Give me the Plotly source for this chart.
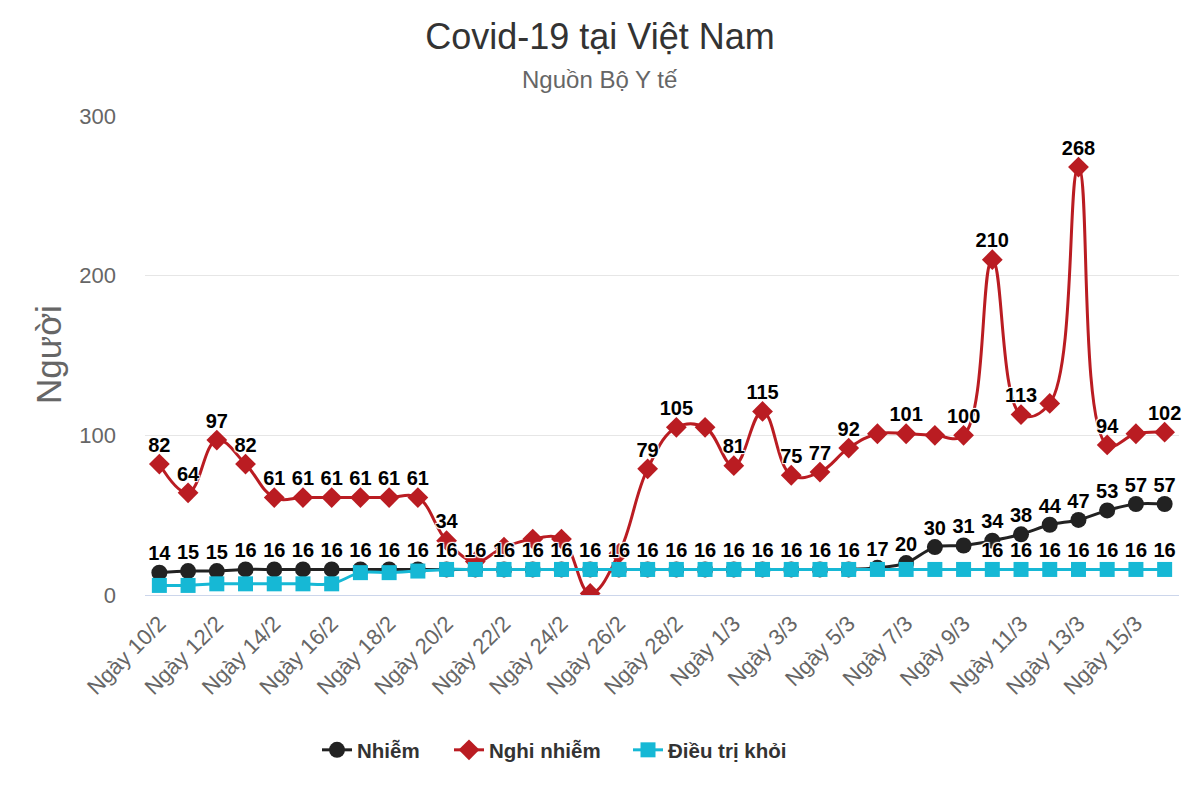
import plotly.graph_objects as go

# ---- data ----
days = ["10/2", "11/2", "12/2", "13/2", "14/2", "15/2", "16/2", "17/2", "18/2", "19/2",
        "20/2", "21/2", "22/2", "23/2", "24/2", "25/2", "26/2", "27/2", "28/2", "29/2",
        "1/3", "2/3", "3/3", "4/3", "5/3", "6/3", "7/3", "8/3", "9/3", "10/3",
        "11/3", "12/3", "13/3", "14/3", "15/3", "16/3"]
categories = ["Ngày " + d for d in days]

nhiem = [14, 15, 15, 16, 16, 16, 16, 16, 16, 16,
         16, 16, 16, 16, 16, 16, 16, 16, 16, 16,
         16, 16, 16, 16, 16, 17, 20, 30, 31, 34,
         38, 44, 47, 53, 57, 57]
nghi_nhiem = [82, 64, 97, 82, 61, 61, 61, 61, 61, 61,
              34, 21, 30, 35, 35, 1, 26, 79, 105, 105,
              81, 115, 75, 77, 92, 101, 101, 100, 100, 210,
              113, 120, 268, 94, 101, 102]
dieu_tri = [6, 6, 7, 7, 7, 7, 7, 14, 14, 15,
            16, 16, 16, 16, 16, 16, 16, 16, 16, 16,
            16, 16, 16, 16, 16, 16, 16, 16, 16, 16,
            16, 16, 16, 16, 16, 16]

# indices whose data label is hidden (overlap) in the original
hidden_nghi = [11, 12, 13, 14, 15, 16, 19, 25, 27, 31, 34]
shown_dieu_tri = [29, 30, 31, 32, 33, 34, 35]

tick_labels = categories[::2]
y_ticks = [0, 100, 200, 300]

BLACK = "#222222"
RED = "#BA1C22"
CYAN = "#16B8D5"
FONT = "Liberation Sans, Arial, sans-serif"

OFF = 8  # page body margin
# plot area in page pixels: x 145..1179, y 116..595
L = 145 - OFF
T = 116 - OFF
R = 1200 - (1179 - OFF)
B = 800 - (595 - OFF)
PW, PH = 1200 - L - R, 800 - T - B

def px_x(p):
    return (p - OFF - L) / PW

def px_y(p):
    return (800 - B - (p - OFF)) / PH

def labels(vals, keep):
    return [str(v) if keep(i) else "" for i, v in enumerate(vals)]

fig = go.Figure()

series = [
    ("Nhiễm", nhiem, BLACK, "circle", 16, "legend", 0.9),
    ("Nghi nhiễm", nghi_nhiem, RED, "diamond", 16, "legend2", 1.15),
    ("Điều trị khỏi", dieu_tri, CYAN, "square", 15, "legend3", 0.9),
]
for name, vals, col, sym, sz, leg, sm in series:
    fig.add_trace(go.Scatter(
        x=categories, y=vals, name=name, mode="lines+markers", legend=leg,
        line=dict(color=col, width=3, shape="spline", smoothing=sm),
        marker=dict(color=col, symbol=sym, size=sz),
        hoverinfo="skip",
    ))

label_sets = [
    (nhiem, labels(nhiem, lambda i: True)),
    (nghi_nhiem, labels(nghi_nhiem, lambda i: i not in hidden_nghi)),
    (dieu_tri, labels(dieu_tri, lambda i: i in shown_dieu_tri)),
]
for vals, txt in label_sets:
    fig.add_trace(go.Scatter(
        x=categories, y=vals, mode="markers+text", text=txt, textposition="top center",
        marker=dict(size=10, opacity=0),
        textfont=dict(family=FONT, size=20, color="#000000", weight="bold",
                      shadow="1px 1px 1px #fff, -1px -1px 1px #fff, 1px -1px 1px #fff, -1px 1px 1px #fff"),
        showlegend=False, hoverinfo="skip", cliponaxis=False,
    ))

leg_common = dict(orientation="h", yanchor="middle", y=px_y(750), xanchor="left",
                  font=dict(size=20.5, color="#333333", family=FONT, weight="bold"),
                  itemwidth=30, bgcolor="rgba(0,0,0,0)")

fig.update_layout(
    width=1200, height=800,
    paper_bgcolor="white", plot_bgcolor="white",
    margin=dict(l=L, r=R, t=T, b=B, autoexpand=False),
    font=dict(family=FONT, color="#666666"),
    title=dict(text="Covid-19 tại Việt Nam", x=(600 - OFF) / 1200, xanchor="center",
               y=1 - (36 - OFF) / 800, yanchor="middle", yref="container",
               font=dict(size=36, color="#333333", family=FONT)),
    showlegend=True,
    legend=dict(leg_common, x=px_x(317)),
    legend2=dict(leg_common, x=px_x(449)),
    legend3=dict(leg_common, x=px_x(628)),
    annotations=[
        dict(text="Nguồn Bộ Y tế", xref="paper", yref="paper", x=px_x(600),
             y=px_y(80), xanchor="center", yanchor="middle", showarrow=False,
             font=dict(size=24, color="#666666", family=FONT)),
        dict(text="Người", xref="paper", yref="paper", x=px_x(48),
             y=px_y(355), xanchor="center", yanchor="middle", showarrow=False,
             textangle=-90, font=dict(size=35, color="#666666", family=FONT)),
    ],
)
fig.update_xaxes(
    type="category", range=[-0.5, len(categories) - 0.5],
    tickmode="array", tickvals=tick_labels, ticktext=tick_labels,
    tickangle=-45, tickfont=dict(size=22, color="#666666"),
    showgrid=False, showline=True, linecolor="#ccd6eb", linewidth=1,
    ticks="outside", ticklen=6, tickcolor="rgba(0,0,0,0)", zeroline=False,
)
fig.update_yaxes(
    range=[0, 300], tickvals=y_ticks, showgrid=True, gridcolor="#e6e6e6",
    gridwidth=1, zeroline=False, showline=False,
    tickfont=dict(size=22, color="#666666"), ticklabelstandoff=28,
)

fig.write_html("out.html")
